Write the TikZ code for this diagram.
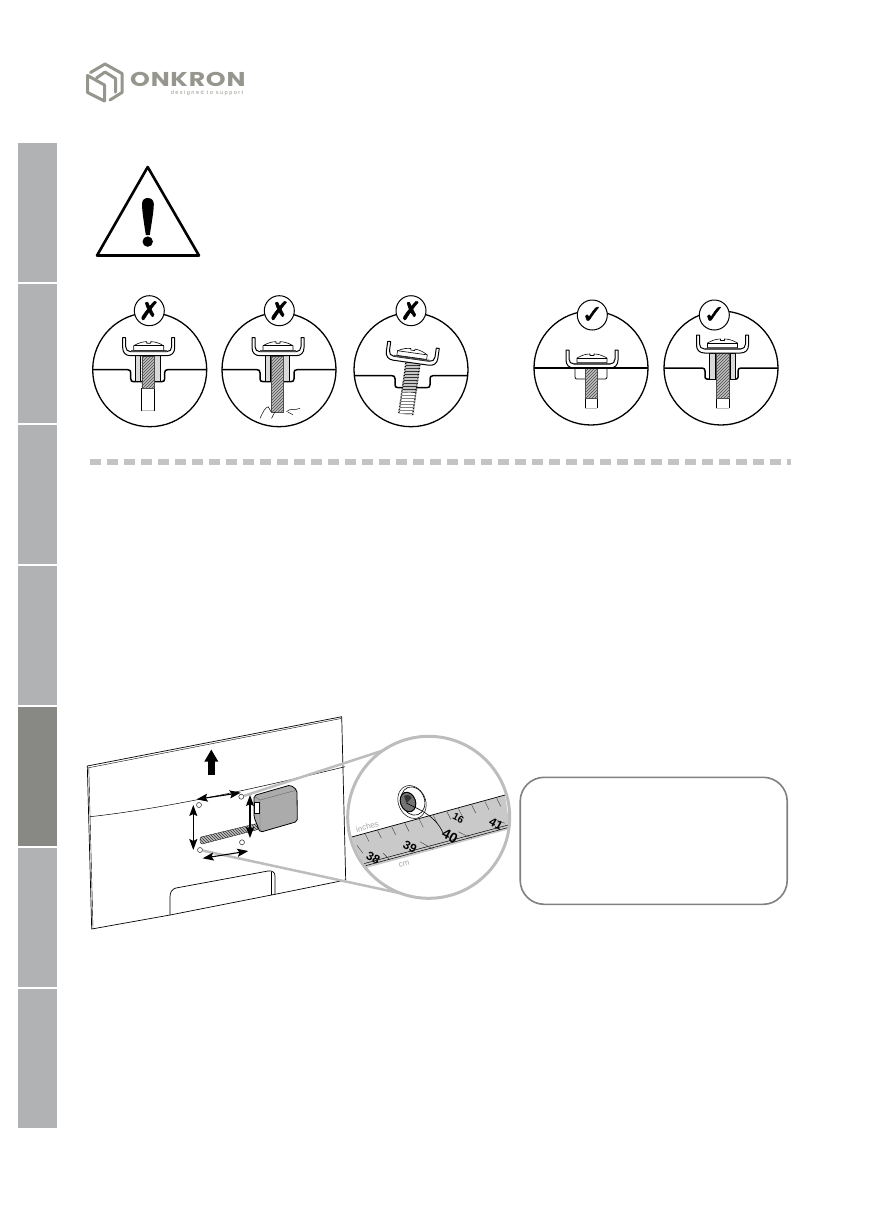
\documentclass[tikz,border=0pt]{standalone}
\usepackage{fontspec}
\usepackage{graphicx}
\usepackage{xcolor}
\usepackage{tikz}
\usetikzlibrary{arrows.meta, positioning, patterns}
\newfontfamily\markfont[FakeBold=2]{DejaVu Sans}
\newfontfamily\logofont{Poppins}
\newfontfamily\rulerfont{Liberation Sans}
\definecolor{tablight}{HTML}{B1B2B3}
\definecolor{tabdark}{HTML}{888885}
\definecolor{logogray}{HTML}{96968F}
\definecolor{linegray}{HTML}{BDBDBD}
\definecolor{tapegray}{HTML}{C9C9C9}
\definecolor{boxgray}{HTML}{808082}
\definecolor{meter}{HTML}{ABABAB}

\begin{document}
\begin{tikzpicture}[
    x=1pt, y=-1pt,
    tab/.style={rectangle, fill=tablight, minimum width=39pt, minimum height=139pt, inner sep=0pt, outer sep=0pt},
    view/.style={circle, draw=black, fill=white, line width=1.3pt, minimum size=114pt, inner sep=0pt},
    badge/.style={circle, draw=black, fill=white, line width=1pt, minimum size=30pt, inner sep=0pt,
        font=\markfont\fontsize{25}{25}\selectfont},
    wall/.style={draw=black, line width=1.5pt},
    plate/.style={draw=black, fill=white, line width=1pt, line join=round},
    spacer/.style={draw=black, fill=gray!30, line width=.6pt},
    screw/.style={draw=black!70, line width=.3pt, preaction={fill=gray!50}, pattern=north east lines, pattern color=black!70},
    thread/.style={preaction={fill=gray!45}, pattern=horizontal lines, pattern color=black!80},
    bore/.style={draw=black, line width=.7pt},
    panel/.style={draw=black, line width=.7pt, line join=round},
    hole/.style={circle, draw=black!75, fill=white, line width=.6pt, minimum size=5pt, inner sep=0pt},
    measure/.style={{Stealth[length=11pt, width=8pt, inset=2pt]}-{Stealth[length=11pt, width=8pt, inset=2pt]}, black, line width=1.1pt},
    pointer/.style={draw=linegray, line width=2.5pt},
    tick/.style={draw=black!75, line width=.4pt},
    numeral/.style={font=\rulerfont\bfseries\fontsize{12}{12}\selectfont, text=black, rotate=-28, inner sep=0pt},
    faint/.style={font=\rulerfont\fontsize{8}{8}\selectfont, text=black!35, rotate=15, inner sep=0pt},
    bracket/.pic={
        \draw[plate] (-26,-18) -- (-26,-8) .. controls (-26,-3) and (-23,0) .. (-18,0) -- (18,0)
            .. controls (23,0) and (26,-3) .. (26,-8) -- (26,-18) -- (23,-18) -- (23,-9)
            .. controls (23,-6) and (21,-4) .. (18,-4) -- (-18,-4) .. controls (-21,-4) and (-23,-6) .. (-23,-9)
            -- (-23,-18) -- cycle;
        \fill[black!70] (-18,-5.4) rectangle (18,-3.8);
        \draw[plate, line width=.6pt] (-15,-5.4) -- (-15,-10) .. controls (-9,-13.5) and (-5,-14) .. (-2,-14)
            -- (-2,-12.5) -- (2,-12.5) -- (2,-14) .. controls (5,-14) and (9,-13.5) .. (15,-10) -- (15,-5.4) -- cycle;
        \draw[line width=.6pt] (-15,-10) -- (15,-10);
    }
]
    \useasboundingbox (0,0) rectangle (875,1227);

    \node[tab] (t1) at (37.5,212.5) {};
    \node[tab, below=2pt of t1] (t2) {};
    \node[tab, below=2pt of t2] (t3) {};
    \node[tab, below=2pt of t3] (t4) {};
    \node[tab, fill=tabdark, below=2pt of t4] (t5) {};
    \node[tab, below=2pt of t5] (t6) {};
    \node[tab, below=2pt of t6] (t7) {};

    \draw[logogray, line width=3pt, line join=round] (87.5,75.5) -- (87.5,92.5) -- (104.5,101) -- (104.5,85) -- cycle;
    \draw[logogray, line width=3pt, line join=round, line cap=round] (90.5,72.5) -- (105,64) -- (122,73.5) -- (122,92.5) -- (110,100);
    \draw[logogray, line width=3pt, line join=round, line cap=round] (96.5,78) -- (105,72) -- (115.5,78.5) -- (115.5,92);
    \node[anchor=south west, inner sep=0pt, text height=14pt, text depth=0pt, text=logogray, font=\logofont\bfseries\fontsize{20}{20}\selectfont] (brand) at (130,87) {\scalebox{1.26}[1]{\addfontfeature{LetterSpace=3}ONKRON}};
    \node[anchor=north east, inner sep=0pt, text=logogray, font=\rulerfont\fontsize{5.6}{6}\selectfont] (claim) at (243.5,90.5) {\addfontfeature{LetterSpace=26}designed to support};

    \draw[black, line width=2.6pt, line join=round] (147.7,167) -- (199,255.5) -- (97,255.5) -- cycle;
    \fill[black] (142,204) .. controls (142,200) and (144.5,198) .. (147.7,198) .. controls (151,198) and (153.8,200) .. (153.8,204)
        .. controls (153.8,212) and (151,226) .. (149.8,235) -- (145.8,235) .. controls (144.5,226) and (142,212) .. (142,204) -- cycle;
    \fill[black] (147.7,241.6) circle (5.2);

    \node[view] (v1) at (149.7,369.7) {};
    \begin{scope}[shift={(v1.center)}]
        \draw[wall] (-57,0) -- (-22,0) .. controls (-20,0) and (-19,1) .. (-19,3) -- (-19,9) .. controls (-19,11) and (-18,12) .. (-16,12) -- (12,12) .. controls (14,12) and (15,11) .. (15,9) -- (15,3) .. controls (15,1) and (16,0) .. (18,0) -- (57,0);
        \draw[bore] (-8,18) -- (-8,41) (4.5,18) -- (4.5,41);
        \draw[gray!50, line width=.5pt] (-8,41) -- (4.5,41);
        \draw[spacer] (-14,-14) rectangle (-9,12);
        \draw[spacer] (4.7,-14) rectangle (10.3,12);
        \draw[screw] (-8,-14) rectangle (4.5,18);
        \pic at (-1,-14) {bracket};
    \end{scope}

    \node[view] (v2) at (279,369.7) {};
    \begin{scope}[shift={(v2.center)}]
        \draw[wall] (-57,0) -- (-22,0) .. controls (-20,0) and (-19,1) .. (-19,3) -- (-19,9) .. controls (-19,11) and (-18,12) .. (-16,12) -- (12,12) .. controls (14,12) and (15,11) .. (15,9) -- (15,3) .. controls (15,1) and (16,0) .. (18,0) -- (57,0);
        \draw[spacer] (-14,-14) rectangle (-9,12);
        \draw[spacer] (4.7,-14) rectangle (10.3,12);
        \draw[screw] (-8,-14) rectangle (4.5,42);
        \draw[black, line width=.5pt] (-19,48.7) .. controls (-16,42) and (-14,38) .. (-10.8,37) (-10.8,37) -- (-8,42) (-4,42) -- (-7.5,48.7)
            (7.5,42) .. controls (11,38) and (16,41) .. (20.8,38.7) (9,42.5) -- (14,45);
        \pic at (-1,-14) {bracket};
    \end{scope}

    \node[view] (v3) at (411,369.7) {};
    \begin{scope}[shift={(v3.center)}]
        \draw[wall] (-56.7,6) -- (-19,6) .. controls (-17,6) and (-16,7) .. (-16,9) -- (-16,15) .. controls (-16,17) and (-15,18) .. (-13,18) -- (16,18) .. controls (18,18) and (19,17) .. (19,15) -- (19,9) .. controls (19,7) and (20,6) .. (22,6) -- (56.7,6);
        \begin{scope}[shift={(2,-7)}, rotate=-8]
            \path[thread] (-6.5,0) rectangle (6.5,30);
            \path[thread, pattern color=black!50, preaction={fill=white}] (-6.5,30) rectangle (6.5,52);
            \draw[black, line width=1.4pt, dash pattern=on .7pt off .8pt] (-7,0) -- (-7,52) (7,0) -- (7,52);
            \draw[gray!60, line width=.5pt] (-7,52) -- (7,52);
        \end{scope}
        \pic[rotate=-8] at (0,-7) {bracket};
    \end{scope}

    \node[view] (v4) at (591,368) {};
    \begin{scope}[shift={(v4.center)}]
        \draw[bore, line width=.8pt] (-16,0) -- (-16,9) .. controls (-16,10.5) and (-15,11) .. (-14,11) -- (14,11) .. controls (15,11) and (16,10.5) .. (16,9) -- (16,0);
        \draw[bore] (-6,30) -- (-6,40) (6,30) -- (6,40);
        \draw[gray!50, line width=.5pt] (-6,40) -- (6,40);
        \draw[screw] (-6,0) rectangle (6,30);
        \pic at (1,0) {bracket};
        \draw[wall] (-57,0) -- (57,0);
    \end{scope}

    \node[view] (v5) at (721,368) {};
    \begin{scope}[shift={(v5.center)}]
        \draw[wall] (-57,0) -- (-19,0) .. controls (-17,0) and (-16,1) .. (-16,3) -- (-16,9) .. controls (-16,10.5) and (-15,11) .. (-14,11) -- (15,11) .. controls (16,11) and (17,10.5) .. (17,9) -- (17,3) .. controls (17,1) and (18,0) .. (20,0) -- (57,0);
        \draw[bore] (-5,30) -- (-5,40) (8,30) -- (8,40);
        \draw[gray!50, line width=.5pt] (-5,40) -- (8,40);
        \draw[spacer] (-12,-15) rectangle (-6,11);
        \draw[spacer] (9,-15) rectangle (14,11);
        \draw[screw] (-5,-15) rectangle (8,30);
        \pic at (1.5,-15) {bracket};
    \end{scope}

    \node[badge] (m1) at (149.3,310.7) {✗};
    \node[badge] (m2) at (279.3,310.7) {✗};
    \node[badge] (m3) at (411,310.7) {✗};
    \node[badge] (m4) at (592.3,315) {✓};
    \node[badge] (m5) at (714.3,315) {✓};

    \draw[linegray!90, line width=5.5pt, dash pattern=on 11pt off 6pt] (90,462) -- (791,462);

    \draw[panel] (87.3,766) -- (341.7,716.7) -- (345.7,880) -- (275,894.3) -- (170,915) -- (91.7,929) -- cycle;
    \draw[panel, line width=.4pt] (88.8,768) -- (93,927.5);
    \draw[panel, line width=.4pt] (87.3,768) -- (341,718.5);
    \draw[panel, line width=.5pt] (90,816.7) .. controls (170,808) and (270,785) .. (345,766.7);
    \draw[panel] (170,915) -- (170,897) .. controls (170,892) and (172,889) .. (176,888) -- (268,871) .. controls (272,870.5) and (275,872) .. (275,876) -- (275,894.3);
    \draw[panel, line width=.4pt] (271.5,871.5) -- (271.5,895);

    \node[hole] (h1) at (199,805) {};
    \node[hole] (h2) at (241.3,796.7) {};
    \node[hole] (h3) at (242,842.3) {};
    \node[hole] (h4) at (200,850) {};
    \node[circle, draw=none, fill=white, minimum size=162pt, inner sep=0pt] (lens) at (428.7,817.3) {};
    \draw[pointer] (h2) -- (lens.125);
    \draw[pointer] (h4) -- (lens.249);

    \begin{scope}
        \clip (lens.center) circle (79.5);
        \fill[tapegray] (340,840) -- (505,795) -- (510,829) -- (355,871) -- cycle;
        \draw[black, line width=.7pt] (340,840.2) -- (505,795);
        \draw[black, line width=.5pt] (355,866) -- (510,824.5);
        \draw[black, line width=.5pt] (355,868.5) -- (510,827);
        \foreach \tx/\ty in {365/833.5, 377.3/830, 391.7/826.7, 405/823.3, 419.3/819.3, 433.3/815.3, 446.7/811.3, 458.3/808.3, 471.7/805, 485/801.7, 496.7/798.3}
            \draw[tick] (\tx,\ty) -- ++(4,8);
        \draw[tick] (356.7,845) -- (363,853.3);
        \draw[tick] (383.3,853.3) -- (390,860);
        \draw[tick] (420,841.7) -- (433.3,849.3);
        \draw[tick] (458.3,831.7) -- (471.7,838.3);
        \draw[tick] (496.7,820) -- (505,823.3);
        \node[numeral] (n38) at (373.3,858.3) {38};
        \node[numeral] (n39) at (410,847.3) {39};
        \node[numeral, font=\rulerfont\bfseries\fontsize{14}{14}\selectfont] (n40) at (450,836) {40};
        \node[numeral] (n41) at (496,824.3) {41};
        \node[numeral, font=\rulerfont\bfseries\fontsize{10}{10}\selectfont] (n16) at (458.3,818.5) {16};
        \node[faint] (inches) at (367.3,826.7) {inches};
        \node[faint] (cm) at (404,864.3) {cm};
        \draw[black, line width=.5pt, rotate around={25:(412,802)}, fill=white] (412,802) ellipse (13.5 and 17);
        \draw[black, line width=.6pt, rotate around={20:(413,801)}, fill=white] (413,801) ellipse (11.5 and 14.5);
        \draw[black, line width=1pt, rotate around={20:(408,802)}, fill=black!55] (408,802) ellipse (7.5 and 10);
        \fill[black!80] (406.5,803) -- (404,796) .. controls (408,793.5) and (411,796) .. (411.5,798) -- cycle;
        \draw[black, line width=.6pt] (406.5,803) .. controls (415,808) and (435,814) .. (443,833);
    \end{scope}
    \node[circle, draw=linegray, line width=3pt, minimum size=162pt, inner sep=0pt] (ring) at (lens.center) {};

    \draw[draw=black, line width=.3pt, pattern=north west lines, pattern color=black!80, preaction={fill=gray!50}] (201,837) -- (257,823.5) -- (258,829.5) -- (202,844) .. controls (199.5,843) and (199.5,838) .. (201,837) -- cycle;
    \draw[draw=black, fill=meter, line width=.8pt, line join=round, rounded corners=2pt] (254,795.5) -- (290.5,785) -- (297,790) -- (297.3,821.5) -- (260,832.3) -- (254,817) -- cycle;
    \draw[black!60, line width=.4pt] (254,796) -- (260,800) -- (297,790) (260,800) -- (260,832);
    \draw[black, line width=.5pt, fill=white] (254.5,802) rectangle (259,813);

    \draw[measure] (196.7,799.3) -- (240.7,792.7);
    \draw[measure] (193.3,805) -- (193.3,850);
    \draw[measure] (250,795) -- (250,838);
    \draw[measure] (202.7,858.3) -- (248.3,851);
    \draw[-{Triangle[length=12pt, width=13pt]}, black, line width=7.5pt] (211.3,775) -- (211.3,749.5);

    \node[draw=boxgray, fill=white, line width=1.6pt, rounded corners=24pt, minimum width=267pt, minimum height=127pt, inner sep=0pt] (note) at (653.7,840.8) {};
\end{tikzpicture}
\end{document}
